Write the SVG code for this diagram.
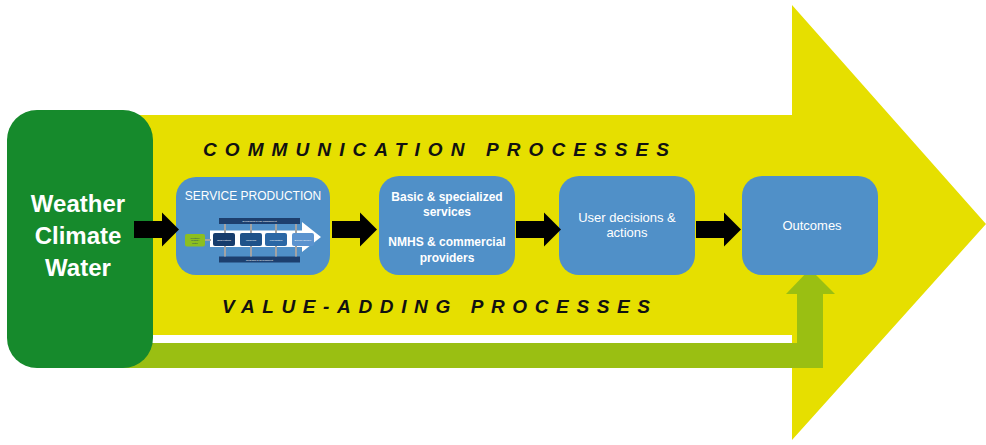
<svg xmlns="http://www.w3.org/2000/svg" width="986" height="445" viewBox="0 0 986 445">
<defs>
<style>
.box{fill:#5090c8}
.wt{fill:#ffffff;font-family:"Liberation Sans",Arial,sans-serif;text-anchor:middle}
.big{font-size:24px;font-weight:bold}
.b12{font-size:12px;font-weight:bold}
.r13{font-size:13px}
.proc{font-family:"Liberation Sans",Arial,sans-serif;font-size:19px;font-style:italic;font-weight:bold;fill:#111111}
.tiny{font-family:"Liberation Sans",Arial,sans-serif;font-size:2.4px;fill:#ffffff;text-anchor:middle}
.grey{stroke:#a3a3a3;stroke-width:2}
</style>
<path id="blk" d="M0,-8.5 H28 V-17 L45,0 L28,17 V8.5 H0 Z" fill="#000000"/>
</defs>
<rect width="986" height="445" fill="#ffffff"/>
<g id="background">
<polygon points="100,115 792,115 792,5 986,224 792,440 792,335 100,335" fill="#e6df00"/>
<g id="value-arrow" fill="#9abf12">
<rect x="100" y="343" width="723" height="25"/>
<rect x="797" y="292" width="26" height="76"/>
<polygon points="786,294 810,269 835,294"/>
</g>
</g>
<g id="labels">
<text class="proc" x="203" y="156" textLength="466" lengthAdjust="spacing">COMMUNICATION PROCESSES</text>
<text class="proc" x="222" y="313" textLength="428" lengthAdjust="spacing">VALUE-ADDING PROCESSES</text>
</g>
<g id="node-weather">
<rect x="7" y="110" width="146" height="258" rx="30" fill="#168a2c"/>
<text class="wt big" x="78" y="212">Weather</text>
<text class="wt big" x="78" y="244">Climate</text>
<text class="wt big" x="78" y="276">Water</text>
</g>
<g id="node-service-production">
<rect class="box" x="176" y="177" width="154" height="98" rx="20"/>
<text class="wt" x="253" y="200" font-size="12">SERVICE PRODUCTION</text>
<rect x="219" y="218" width="81" height="6" fill="#1d3f6e"/>
<text class="tiny" x="259.5" y="222">Overarching &amp; risk management</text>
<rect x="219" y="256.5" width="81" height="6" fill="#1d3f6e"/>
<text class="tiny" x="259.5" y="260.5">Research &amp; development</text>
<polygon points="210,230.5 302,230.5 302,222 321,237 302,252 302,247 210,247" fill="#ffffff"/>
<line class="grey" x1="205" y1="240" x2="211" y2="240"/>
<g class="grey">
<line x1="225" y1="224" x2="225" y2="233"/><line x1="225" y1="246" x2="225" y2="256.5"/>
<line x1="251" y1="224" x2="251" y2="233"/><line x1="251" y1="246" x2="251" y2="256.5"/>
<line x1="276" y1="224" x2="276" y2="233"/><line x1="276" y1="246" x2="276" y2="256.5"/>
<line x1="296" y1="224" x2="296" y2="233"/><line x1="296" y1="246" x2="296" y2="256.5"/>
</g>
<rect x="185" y="234" width="20" height="12.5" rx="2" fill="#8cbf1f"/>
<text class="tiny" x="195" y="238.5" style="fill:#1d3f6e">Weather/</text>
<text class="tiny" x="195" y="241.2" style="fill:#1d3f6e">climate/</text>
<text class="tiny" x="195" y="243.9" style="fill:#1d3f6e">water</text>
<rect x="213" y="233" width="22" height="13" rx="2" fill="#163c6c"/>
<text class="tiny" x="224" y="240.5">Observations</text>
<rect x="240" y="233" width="22" height="13" rx="2" fill="#1e5289"/>
<text class="tiny" x="251" y="240.5">Modelling</text>
<rect x="265" y="233" width="22" height="13" rx="2" fill="#2a67a5"/>
<text class="tiny" x="276" y="240.5">Forecasting</text>
<rect x="292" y="233" width="22" height="13" rx="2" fill="#5b93cf"/>
<text class="tiny" x="303" y="240.5">Service delivery</text>
</g>
<g id="node-services">
<rect class="box" x="379" y="176" width="136" height="99" rx="20"/>
<text class="wt b12" x="447" y="201">Basic &amp; specialized</text>
<text class="wt b12" x="447" y="216">services</text>
<text class="wt b12" x="447" y="246">NMHS &amp; commercial</text>
<text class="wt b12" x="447" y="262">providers</text>
</g>
<g id="node-user">
<rect class="box" x="559" y="176" width="136" height="99" rx="20"/>
<text class="wt r13" x="627" y="222">User decisions &amp;</text>
<text class="wt r13" x="627" y="237">actions</text>
</g>
<g id="node-outcomes">
<rect class="box" x="742" y="176" width="136" height="99" rx="20"/>
<text class="wt r13" x="812" y="230">Outcomes</text>
</g>
<g id="connectors">
<use href="#blk" transform="translate(134,229.5)"/>
<use href="#blk" transform="translate(332,229.5)"/>
<use href="#blk" transform="translate(516,229.5)"/>
<use href="#blk" transform="translate(696,229.5)"/>
</g>
</svg>
